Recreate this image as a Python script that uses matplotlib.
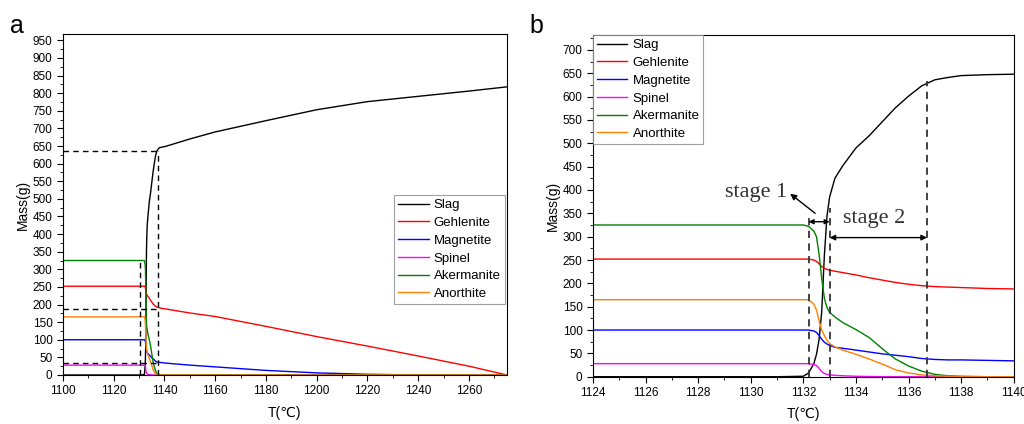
import numpy as np
import matplotlib
matplotlib.use("Agg")
import matplotlib.pyplot as plt
from matplotlib.ticker import MultipleLocator

plt.rcParams["font.family"] = ["Liberation Sans", "DejaVu Sans"]

# temperature grid (degC) shared by both panels
temp = [1100, 1124, 1131, 1132.0, 1132.2, 1132.4, 1132.5, 1132.6, 1132.7, 1132.8,
        1132.9, 1133.0, 1133.2, 1133.5, 1134.0, 1134.5, 1135.0, 1135.5, 1136.0,
        1136.5, 1137.0, 1137.5, 1138.0, 1139.0, 1140, 1150, 1160, 1180, 1200,
        1220, 1240, 1260, 1275]

slag = [0, 0, 0, 1, 8, 28, 48, 80, 140, 260,
        345, 385, 425, 452, 490, 516, 546, 576, 601,
        623, 636, 641, 645, 647, 648, 670, 690, 722, 753,
        776, 791, 806, 818]
gehlenite = [252, 252, 252, 252, 252, 250, 247, 242, 236, 232,
             230, 228, 226, 223, 218, 212, 207, 202, 198,
             195, 193, 192, 191, 189, 188, 176, 166, 138, 109,
             82, 54, 25, 0]
magnetite = [100, 100, 100, 100, 100, 98, 95, 88, 80, 74,
             70, 67, 63, 61, 57, 53, 49, 46, 43,
             39, 37, 36, 36, 35, 34, 28, 23, 13, 6,
             2, 0, 0, 0]
spinel = [28, 28, 28, 28, 28, 26, 24, 18, 11, 7,
          5, 4, 3, 2, 1, 0.5, 0, 0, 0,
          0, 0, 0, 0, 0, 0, 0, 0, 0, 0,
          0, 0, 0, 0]
akermanite = [325, 325, 325, 325, 322, 312, 300, 262, 210, 168,
              148, 138, 128, 116, 101, 84, 60, 38, 23,
              12, 5, 2, 1, 0, 0, 0, 0, 0, 0,
              0, 0, 0, 0]
anorthite = [165, 165, 165, 165, 165, 155, 143, 120, 100, 88,
             78, 71, 64, 57, 48, 38, 27, 15, 8,
             4, 2, 1, 0, 0, 0, 0, 0, 0, 0,
             0, 0, 0, 0]

phases = ["Slag", "Gehlenite", "Magnetite", "Spinel", "Akermanite", "Anorthite"]
colors = ["black", "#ff0000", "#0000ff", "#ff00ff", "#008000", "#ff8000"]
series = [slag, gehlenite, magnetite, spinel, akermanite, anorthite]

# guide lines
a_hlines = [637, 188, 34]
a_hline_end = 1137.5
a_vlines = [(1130.5, 325), (1137.5, 637)]
b_vlines = [(1132.2, 350), (1133.0, 362), (1136.7, 634)]


def style_axes(ax, xmajor, ymajor):
    ax.xaxis.set_major_locator(MultipleLocator(xmajor))
    ax.xaxis.set_minor_locator(MultipleLocator(xmajor / 2))
    ax.yaxis.set_major_locator(MultipleLocator(ymajor))
    ax.yaxis.set_minor_locator(MultipleLocator(ymajor / 2))
    ax.tick_params(which="both", direction="out", labelsize=8.5, top=False, right=False)
    ax.tick_params(which="major", length=4)
    ax.tick_params(which="minor", length=2.5)
    ax.set_xlabel("T(\u2103)", fontsize=10, labelpad=6)
    ax.set_ylabel("Mass(g)", fontsize=10, labelpad=2)


def add_legend(ax, **kw):
    leg = ax.legend(fontsize=9.5, handlelength=2.3, frameon=True, fancybox=False,
                    borderaxespad=0, labelspacing=0.42, handletextpad=0.4,
                    borderpad=0.3, **kw)
    leg.get_frame().set_edgecolor("#888888")
    leg.get_frame().set_linewidth(0.8)
    return leg


fig = plt.figure(figsize=(10.24, 4.24), dpi=100)
ax_a = fig.add_axes([0.0615, 0.1156, 0.4336, 0.8042])
ax_b = fig.add_axes([0.579, 0.1115, 0.411, 0.806])

for ax in (ax_a, ax_b):
    for name, col, vals in zip(phases, colors, series):
        ax.plot(temp, vals, color=col, lw=1.0, label=name)

# panel a
for y in a_hlines:
    ax_a.plot([1100, a_hline_end], [y, y], color="black", lw=1.0, ls=(0, (4, 3)))
for x, ytop in a_vlines:
    ax_a.plot([x, x], [0, ytop], color="black", lw=1.0, ls=(0, (4, 3)))
ax_a.set_xlim(1100, 1275)
ax_a.set_ylim(0, 968)
style_axes(ax_a, 20, 50)
add_legend(ax_a, loc="lower right", bbox_to_anchor=(0.995, 0.208))

# panel b
for x, ytop in b_vlines:
    ax_b.plot([x, x], [0, ytop], color="#333333", lw=1.3, ls=(0, (4, 3)))
ax_b.set_xlim(1124, 1140)
ax_b.set_ylim(0, 732)
style_axes(ax_b, 2, 50)

ax_b.annotate("", xy=(1132.2, 332), xytext=(1133.0, 332),
              arrowprops=dict(arrowstyle="<|-|>", color="black", lw=1.0,
                              shrinkA=0, shrinkB=0, mutation_scale=7))
ax_b.annotate("", xy=(1133.0, 298), xytext=(1136.7, 298),
              arrowprops=dict(arrowstyle="<|-|>", color="black", lw=1.0,
                              shrinkA=0, shrinkB=0, mutation_scale=8))
ax_b.annotate("", xy=(1131.5, 392), xytext=(1132.45, 350),
              arrowprops=dict(arrowstyle="-|>", color="black", lw=1.0,
                              shrinkA=0, shrinkB=0, mutation_scale=9))
ax_b.text(1131.4, 394, "stage 1", ha="right", va="center", fontsize=16,
          family="Liberation Serif", color="#333333")
ax_b.text(1133.5, 338, "stage 2", ha="left", va="center", fontsize=16,
          family="Liberation Serif", color="#333333")

add_legend(ax_b, loc="upper left")

fig.text(10 / 1024, 1 - 33 / 424, "a", fontsize=18, ha="left", va="baseline")
fig.text(529 / 1024, 1 - 33 / 424, "b", fontsize=18, ha="left", va="baseline")

fig.savefig("out.png", dpi=100)
plt.close(fig)
